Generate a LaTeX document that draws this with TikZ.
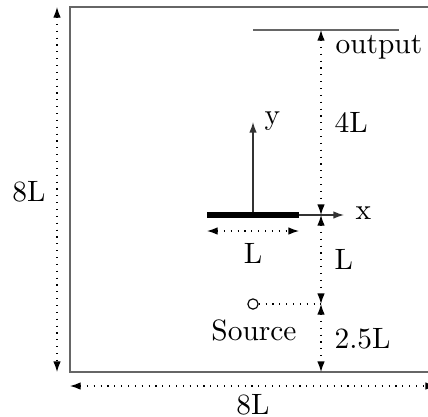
\documentclass[tikz,border=0pt]{standalone}
\usetikzlibrary{arrows.meta}
\begin{document}
\begin{tikzpicture}[x=0.35pt,y=-0.35pt,
  frame/.style={draw=black!60,line width=0.55pt},
  dimline/.style={dotted,line width=0.4pt,{Latex[length=3.7pt,width=2.6pt]}-{Latex[length=3.7pt,width=2.6pt]}},
  dotline/.style={dotted,line width=0.4pt},
  axis/.style={draw=black!80,line width=0.45pt,-{Latex[length=3.7pt,width=2.6pt]}},
  plate/.style={line width=2.2pt},
  lbl/.style={inner sep=0pt,font=\fontsize{10.3}{12}\selectfont}]
\useasboundingbox (0,0) rectangle (428,416);
\clip (0,0) rectangle (428,416);
% domain box
\coordinate (TL) at (70,7);
\coordinate (BR) at (436,372);
\draw[frame] (TL) rectangle (BR);
% left dimension
\coordinate (lt) at (57,7);
\coordinate (lb) at (57,372);
\draw[dimline] (lt) -- (lb);
\node[lbl,anchor=base] (h8L) at (29,201) {8L};
% bottom dimension
\coordinate (bl) at (70,386);
\coordinate (br) at (436,386);
\draw[dimline] (bl) -- (br);
\node[lbl,anchor=base] (w8L) at (253,414) {8L};
% output line
\coordinate (o1) at (253,30);
\coordinate (o2) at (399,30);
\draw[frame] (o1) -- (o2);
% vertical dimension chain
\coordinate (d0) at (321,30);
\coordinate (d1) at (321,215);
\coordinate (d2) at (321,304);
\coordinate (d3) at (321,372);
\draw[dimline] (d0) -- (d1);
\draw[dimline] (d1) -- (d2);
\draw[dimline] (d2) -- (d3);
\node[lbl,anchor=base west] (outlbl) at (335,53) {output};
\node[lbl,anchor=base west] (l4L) at (334,132) {4L};
\node[lbl,anchor=base west] (lL) at (334,269) {L};
\node[lbl,anchor=base west] (l25L) at (334,348) {2.5L};
% plate and axes
\coordinate (p1) at (207,215);
\coordinate (p2) at (299,215);
\coordinate (pc) at (253,215);
\coordinate (ya) at (253,122);
\coordinate (xa) at (344,215);
\draw[axis] (pc) -- (ya);
\draw[axis] (p2) -- (xa);
\draw[plate] (p1) -- (p2);
\node[lbl,anchor=base west] (ylbl) at (264,124) {y};
\node[lbl,anchor=base west] (xlbl) at (355,219) {x};
% plate length dimension
\coordinate (L1) at (207,231);
\coordinate (L2) at (299,231);
\draw[dimline] (L1) -- (L2);
\node[lbl,anchor=base] (pL) at (253,263) {L};
% source
\node[draw,circle,inner sep=0pt,minimum size=3.6pt,line width=0.4pt] (src) at (253,304) {};
\draw[dotline] (src) -- (d2);
\node[lbl,anchor=base] (srclbl) at (254,340) {Source};
\end{tikzpicture}
\end{document}
